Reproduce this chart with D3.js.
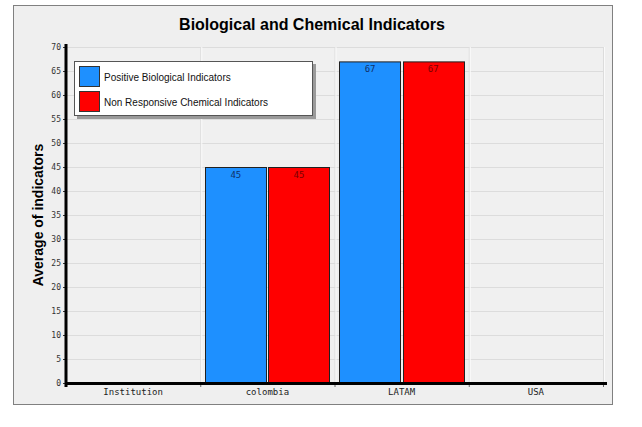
<!DOCTYPE html>
<html><head><meta charset="utf-8">
<script src="https://cdn.jsdelivr.net/npm/d3@7"></script>
<style>body{margin:0;background:#fff;} svg{display:block;}</style>
</head><body>
<svg id="chart" width="642" height="427"></svg>
<script>
const categories = ["Institution", "colombia", "LATAM", "USA"];
const seriesNames = ["Positive Biological Indicators", "Non Responsive Chemical Indicators"];
const positiveBio = [null, 45, 67, null];
const nonRespChem = [null, 45, 67, null];
const yTicks = [0,5,10,15,20,25,30,35,40,45,50,55,60,65,70];
const colors = ["#1e90ff", "#ff0000"];
const labelColors = ["#10306a", "#7a0000"];

const svg = d3.select("#chart");
// panel
svg.append("rect").attr("x",13.5).attr("y",5.5).attr("width",599).attr("height",399)
  .attr("fill","#efefef").attr("stroke","#808080").attr("stroke-width",1);

const L=66, R=603, T=47, B=383;
const x = d3.scaleBand().domain(categories).range([L,R]);
const y = d3.scaleLinear().domain([0,70]).range([B,T]);
const xs = d3.scaleBand().domain([0,1]).range([0, x.bandwidth()]).paddingInner(0.032).paddingOuter(0.079);

// plot bg
svg.append("rect").attr("x",L).attr("y",T).attr("width",R-L).attr("height",B-T).attr("fill","#f0f0f0");
// horizontal grid
svg.append("g").selectAll("line").data(yTicks.slice(1)).join("line")
  .attr("x1",L).attr("x2",R).attr("y1",d=>y(d)+0.5).attr("y2",d=>y(d)+0.5)
  .attr("stroke","#dcdcdc").attr("stroke-width",1);
// vertical grid
const bounds = categories.map(c=>x(c)+x.bandwidth());
svg.append("g").selectAll("line").data(bounds).join("line")
  .attr("x1",d=>d+0.5).attr("x2",d=>d+0.5).attr("y1",T).attr("y2",B)
  .attr("stroke","#dcdcdc").attr("stroke-width",1);
svg.append("g").selectAll("line").data(bounds).join("line")
  .attr("x1",d=>d+1.5).attr("x2",d=>d+1.5).attr("y1",T).attr("y2",B)
  .attr("stroke","#fafafa").attr("stroke-width",1);

// bars
const series = [positiveBio, nonRespChem];
series.forEach((vals,si)=>{
  const g = svg.append("g");
  const data = categories.map((c,i)=>({c, v: vals[i]})).filter(d=>d.v!=null);
  g.selectAll("rect").data(data).join("rect")
    .attr("x",d=>Math.round(x(d.c)+xs(si))+0.5).attr("y",d=>y(d.v)+0.5)
    .attr("width",Math.round(xs.bandwidth())).attr("height",d=>B-y(d.v))
    .attr("fill",colors[si]).attr("stroke","#202020").attr("stroke-width",1);
  g.selectAll("text").data(data).join("text")
    .attr("x",d=>x(d.c)+xs(si)+xs.bandwidth()/2).attr("y",d=>y(d.v)+11)
    .attr("text-anchor","middle").attr("font-family","DejaVu Sans Mono, monospace")
    .attr("font-size",9).attr("fill",labelColors[si]).text(d=>d.v);
});

// y axis
const yAxis = d3.axisLeft(y).tickValues(yTicks).tickSize(3).tickPadding(2);
const ga = svg.append("g").attr("transform",`translate(${L},0)`).call(yAxis);
ga.select(".domain").remove();
ga.selectAll(".tick line").attr("stroke","#333");
ga.selectAll(".tick text").attr("font-family","DejaVu Sans Mono, monospace").attr("font-size",8).attr("fill","#333");
svg.append("line").attr("x1",L).attr("x2",L).attr("y1",T-3).attr("y2",B+4).attr("stroke","#000").attr("stroke-width",3);

// x axis
const xAxis = d3.axisBottom(x).tickSize(0).tickPadding(6);
const gx = svg.append("g").attr("transform",`translate(0,${B})`).call(xAxis);
gx.select(".domain").remove();
gx.selectAll(".tick text").attr("font-family","DejaVu Sans Mono, monospace").attr("font-size",9).attr("fill","#222");
svg.append("g").selectAll("line").data(bounds).join("line")
  .attr("x1",d=>d+0.5).attr("x2",d=>d+0.5).attr("y1",B).attr("y2",B+4).attr("stroke","#666");
svg.append("line").attr("x1",L).attr("x2",R+4).attr("y1",B+0.5).attr("y2",B+0.5).attr("stroke","#000").attr("stroke-width",3);

// title
svg.append("text").attr("x",312).attr("y",30).attr("text-anchor","middle")
  .attr("font-family","Liberation Sans, Arial, sans-serif").attr("font-weight","bold").attr("font-size",16)
  .attr("fill","#000").text("Biological and Chemical Indicators");
// y title
svg.append("text").attr("transform","translate(43,215) rotate(-90)").attr("text-anchor","middle")
  .attr("font-family","Liberation Sans, Arial, sans-serif").attr("font-weight","bold").attr("font-size",14)
  .attr("fill","#000").text("Average of indicators");

// legend
const lg = svg.append("g");
lg.append("rect").attr("x",77).attr("y",64).attr("width",239).attr("height",55).attr("fill","#9a9a9a");
lg.append("rect").attr("x",74.5).attr("y",61.5).attr("width",238).attr("height",54).attr("fill","#fff").attr("stroke","#555");
seriesNames.forEach((n,i)=>{
  lg.append("rect").attr("x",79.5).attr("y",66.5+i*25).attr("width",20).attr("height",20)
    .attr("fill",colors[i]).attr("stroke","#333");
  lg.append("text").attr("x",104).attr("y",80.5+i*25)
    .attr("font-family","Liberation Sans, Arial, sans-serif").attr("font-size",10).attr("fill","#111").text(n);
});
</script>
</body></html>
